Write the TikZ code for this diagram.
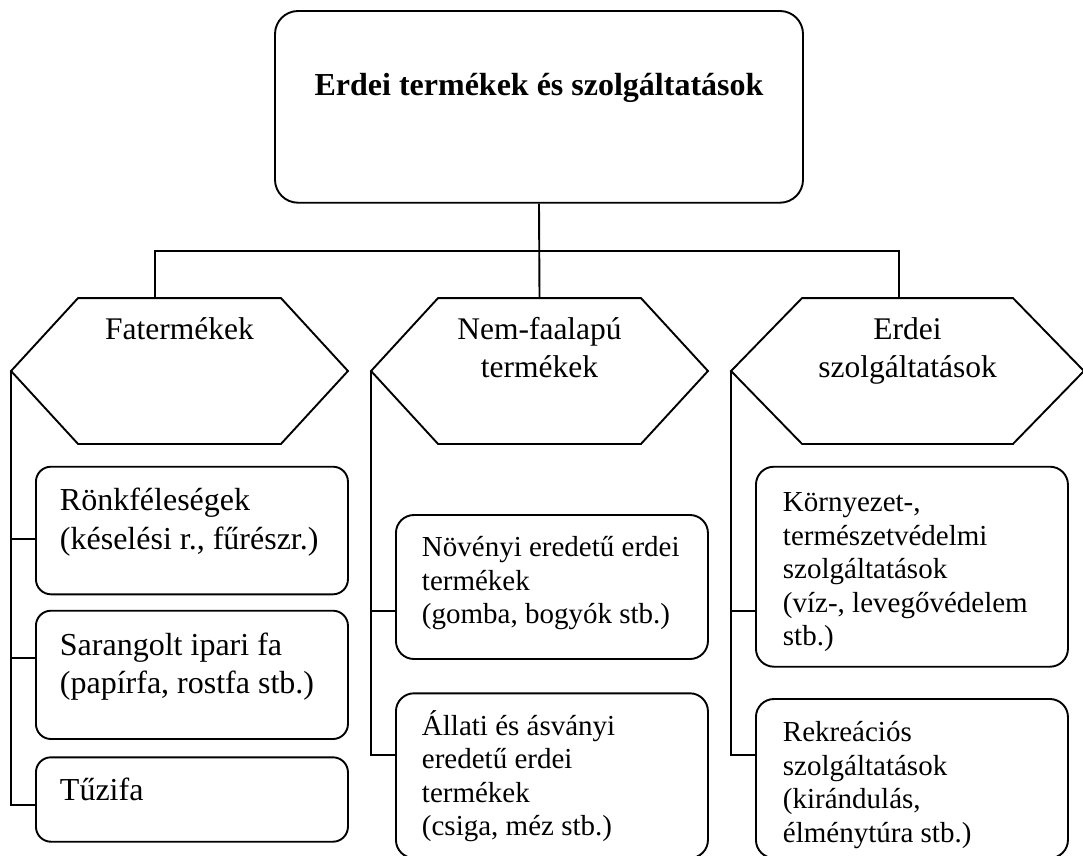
\documentclass[tikz,border=0pt]{standalone}
\usepackage{fontspec}
\setmainfont{Liberation Serif}
\usetikzlibrary{calc}

\begin{document}
\begin{tikzpicture}[x=1pt,y=-1pt,
  line width=1.9pt, line join=miter,
  titlebox/.style={draw, rounded corners=23pt, inner sep=0pt, minimum width=528pt,
    font=\fontsize{32}{38}\selectfont\bfseries, text height=84pt, text depth=107.7pt},
  hexlabel/.style={inner sep=0pt, align=center,
    font=\fontsize{31.5}{37.5}\selectfont, text height=40.5pt, text depth=103.5pt},
  itembox/.style={draw, inner ysep=0pt, align=flush left, anchor=base west},
  bigitem/.style={itembox, rounded corners=15pt, inner xsep=24pt, text width=264pt,
    font=\fontsize{32}{38.5}\selectfont},
  smallitem/.style={itembox, rounded corners=18pt, font=\fontsize{29}{33.5}\selectfont},
]
\useasboundingbox (0,0) rectangle (1083,855);
\fill[white] (0,0) rectangle (1083,855);
\clip (0,0) rectangle (1083,855);

% root box
\node[titlebox, anchor=base] (top) at (539,95) {Erdei termékek és szolgáltatások};

% the three category hexagons (frames drawn below)
\node[hexlabel, anchor=base, text width=335pt] (h1) at (179.5,339.5) {Fatermékek};
\node[hexlabel, anchor=base, text width=335pt] (h2) at (539.5,339.5) {Nem-faalapú\\termékek};
\node[hexlabel, anchor=base, text width=351pt] (h3) at (907.5,339.5) {Erdei\\szolgáltatások};
\foreach \h/\d in {h1/67,h2/67,h3/71}
  \draw (\h.west) -- ([xshift=\d pt]\h.north west) -- ([xshift=-\d pt]\h.north east)
        -- (\h.east) -- ([xshift=-\d pt]\h.south east) -- ([xshift=\d pt]\h.south west) -- cycle;

% wood products
\node[bigitem, text height=44pt, text depth=83.6pt] (lb1) at (35,510.7)
  {Rönkféleségek\\(késelési r., fűrészr.)};
\node[bigitem, text height=44.3pt, text depth=84pt] (lb2) at (35,655)
  {Sarangolt ipari fa\\(papírfa, rostfa stb.)};
\node[bigitem, text height=42.7pt, text depth=41.7pt] (lb3) at (35,800)
  {Tűzifa};

% non-wood products
\node[smallitem, inner xsep=26pt, text width=260pt, text height=41.7pt, text depth=102.3pt] (mb1) at (395,556.7)
  {Növényi eredetű erdei\\termékek\\(gomba, bogyók stb.)};
\node[smallitem, inner xsep=26pt, text width=260pt, text height=41.7pt, text depth=123pt] (mb2) at (395,735)
  {Állati és ásványi\\eredetű erdei\\termékek\\(csiga, méz stb.)};

% forest services
\node[smallitem, inner xsep=27pt, text width=258pt, text height=45pt, text depth=155pt] (rb1) at (755,511.7)
  {Környezet-,\\természetvédelmi\\szolgáltatások\\(víz-, levegővédelem\\stb.)};
\node[smallitem, inner xsep=27pt, text width=258pt, text depth=116.3pt, text height=42.7pt] (rb2) at (755,741.7)
  {Rekreációs\\szolgáltatások\\(kirándulás,\\élménytúra stb.)};

% root to categories
\coordinate (bus) at ($(top.south)!.5!(h2.north)$);
\coordinate (h1top) at ([xshift=-24.5pt]h1.north);
\coordinate (h3top) at ([xshift=-8.2pt]h3.north);
\draw (top.south) -- (h2.north);
\draw (h1top) |- (bus) -| (h3top);

% tie points on the item boxes
\coordinate (l1) at ([yshift=-8.8pt]lb1.west);
\coordinate (l2) at ([yshift=16.6pt]lb2.west);
\coordinate (l3) at ([yshift=-5.5pt]lb3.west);
\coordinate (m1) at ([yshift=-23.7pt]mb1.west);
\coordinate (m2) at ([yshift=20.6pt]mb2.west);
\coordinate (r1) at ([yshift=-44pt]rb1.west);
\coordinate (r2) at ([yshift=23.5pt]rb2.west);

% category spines and branches
\draw (h1.west) |- (l3);
\draw (h1.west |- l1) -- (l1);
\draw (h1.west |- l2) -- (l2);
\draw (h2.west) |- (m2);
\draw (h2.west |- m1) -- (m1);
\draw (h3.west) |- (r2);
\draw (h3.west |- r1) -- (r1);
\end{tikzpicture}
\end{document}
